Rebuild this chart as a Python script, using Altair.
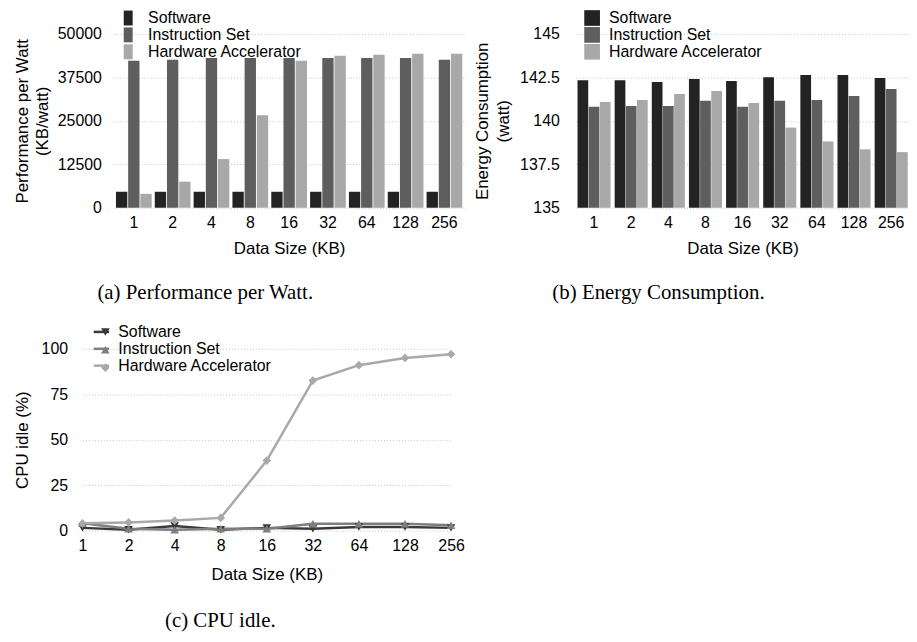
import altair as alt
import pandas as pd

sizes = ["1", "2", "4", "8", "16", "32", "64", "128", "256"]
series = ["Software", "Instruction Set", "Hardware Accelerator"]

# (a) Performance per Watt (KB/watt)
perf_sw = [4600, 4600, 4600, 4600, 4600, 4600, 4600, 4600, 4600]
perf_is = [42300, 42600, 43100, 43100, 43100, 43100, 43100, 43100, 42600]
perf_hw = [4000, 7500, 14000, 26600, 42300, 43700, 44000, 44300, 44300]

# (b) Energy Consumption (watt)
energy_sw = [142.34, 142.34, 142.23, 142.40, 142.29, 142.51, 142.63, 142.63, 142.46]
energy_is = [140.81, 140.86, 140.86, 141.15, 140.81, 141.15, 141.20, 141.43, 141.83]
energy_hw = [141.09, 141.20, 141.55, 141.72, 141.03, 139.61, 138.81, 138.36, 138.20]
energy_ticks = [135, 137.5, 140, 142.5, 145]

# (c) CPU idle (%)
idle_sw = [1.5, 0.5, 2.5, 0.5, 1.5, 1.0, 2.0, 2.0, 1.5]
idle_is = [4.0, 1.0, 0.5, 1.0, 1.0, 3.8, 3.8, 3.8, 2.9]
idle_hw = [4.0, 4.5, 5.5, 7.0, 38.5, 82.5, 91.0, 95.0, 97.0]

colors_a = ["#232323", "#5e5e5e", "#a8a8a8"]
colors_b = ["#414141", "#797979", "#a9a9a9"]
colors_c = ["#3a3a3a", "#7e7e7e", "#a9a9a9"]

FONT = "Liberation Sans"
SERIF = "Liberation Serif"


def long_df(vals):
    rows = []
    for s, v in zip(series, vals):
        for k, x in zip(sizes, v):
            rows.append({"size": k, "series": s, "series_l": s, "value": x})
    return pd.DataFrame(rows)


def indep(ch):
    return ch.resolve_scale(
        color="independent", shape="independent", stroke="independent",
    ).resolve_legend(
        color="independent", shape="independent", stroke="independent",
    )


df_a = long_df([perf_sw, perf_is, perf_hw])
df_b = long_df([energy_sw, energy_is, energy_hw])
df_c = long_df([idle_sw, idle_is, idle_hw])

x_axis_common = dict(title="Data Size (KB)", labelAngle=0, ticks=False, domain=False,
                     grid=False, labelPadding=7, titlePadding=10)

a = alt.Chart(df_a).mark_bar().encode(
    x=alt.X("size:N", sort=sizes,
            scale=alt.Scale(paddingInner=0.08, paddingOuter=0.043),
            axis=alt.Axis(**x_axis_common)),
    xOffset=alt.XOffset("series:N", sort=series, scale=alt.Scale(paddingInner=0.07)),
    y=alt.Y("value:Q", scale=alt.Scale(domain=[0, 50000]),
            axis=alt.Axis(values=[0, 12500, 25000, 37500, 50000], format="d",
                          title=["Performance per Watt", "(KB/watt)"],
                          titleLineHeight=20, labelPadding=13, titlePadding=6,
                          ticks=False, domain=False)),
    color=alt.Color("series:N", sort=series,
                    scale=alt.Scale(domain=series, range=colors_a),
                    legend=alt.Legend(orient="none", legendX=6, legendY=-24, title=None,
                                      symbolType="M-0.6,-1H0.6V1H-0.6Z", symbolSize=225,
                                      symbolStrokeWidth=0, labelOffset=12, rowPadding=1,
                                      padding=0)),
).properties(
    width=352, height=175,
    title=alt.TitleParams("(a) Performance per Watt.", orient="bottom", anchor="start",
                          frame="group", dx=-17, offset=26, font=SERIF, fontSize=21,
                          fontWeight="normal", color="black"),
)

b = alt.Chart(df_b).mark_bar().encode(
    x=alt.X("size:N", sort=sizes,
            scale=alt.Scale(paddingInner=0.11, paddingOuter=0.035),
            axis=alt.Axis(**x_axis_common)),
    xOffset=alt.XOffset("series:N", sort=series, scale=alt.Scale(paddingInner=0.04)),
    y=alt.Y("value:Q", scale=alt.Scale(domain=[135, 145], zero=False, clamp=True),
            axis=alt.Axis(values=energy_ticks, format=".1~f",
                          title=["Energy Consumption", "(watt)"],
                          titleLineHeight=21, labelPadding=17, titlePadding=7,
                          ticks=False, domain=False)),
    y2=alt.datum(135),
    color=alt.Color("series:N", sort=series,
                    scale=alt.Scale(domain=series, range=colors_b),
                    legend=alt.Legend(orient="none", legendX=8, legendY=-24, title=None,
                                      symbolType="square", symbolSize=250,
                                      symbolStrokeWidth=0, labelOffset=9, rowPadding=1,
                                      padding=0)),
).properties(
    width=335, height=175,
    title=alt.TitleParams("(b) Energy Consumption.", orient="bottom", anchor="start",
                          frame="group", dx=-24, offset=26, font=SERIF, fontSize=21,
                          fontWeight="normal", color="black"),
)

base_c = alt.Chart(df_c).encode(
    x=alt.X("size:N", sort=sizes, scale=alt.Scale(type="point", padding=0),
            axis=alt.Axis(title="Data Size (KB)", labelAngle=0, ticks=False, domain=False,
                          grid=False, labelPadding=7, titlePadding=13)),
    y=alt.Y("value:Q", scale=alt.Scale(domain=[0, 100]),
            axis=alt.Axis(values=[0, 25, 50, 75, 100], title="CPU idle (%)",
                          labelPadding=15, titlePadding=10, ticks=False, domain=False)),
)

lines = base_c.mark_line(strokeWidth=2.5).encode(
    stroke=alt.Stroke("series_l:N", sort=series, scale=alt.Scale(range=colors_c),
                      legend=alt.Legend(orient="none", legendX=10, legendY=-26, title=None,
                                        symbolType="stroke", symbolSize=240,
                                        symbolStrokeWidth=2.5, labelOffset=8, rowPadding=0,
                                        padding=0)),
)

marker_legend = dict(orient="none", legendX=15, legendY=-25, title=None,
                     symbolSize=75, symbolStrokeWidth=0, labelExpr="''",
                     rowPadding=2, padding=0)

points = base_c.mark_point(filled=True, size=75, opacity=1).encode(
    color=alt.Color("series:N", scale=alt.Scale(domain=series, range=colors_c),
                    legend=alt.Legend(**marker_legend)),
    shape=alt.Shape("series:N",
                    scale=alt.Scale(domain=series,
                                    range=["triangle-down", "triangle-up", "diamond"]),
                    legend=alt.Legend(**marker_legend)),
)

c = alt.layer(lines, points).properties(
    width=371, height=183,
    title=alt.TitleParams("(c) CPU idle.", orient="bottom", anchor="start",
                          frame="group", dx=83, offset=28, font=SERIF, fontSize=21,
                          fontWeight="normal", color="black"),
)


def spacer():
    return alt.Chart(pd.DataFrame({"z": [0]})).mark_point(opacity=0, size=0).encode(
        x=alt.value(0), y=alt.value(0)
    ).properties(width=1, height=1)


panels_ab = indep(alt.hconcat(a, b, spacing=9)).resolve_scale(xOffset="independent")
row_top = indep(alt.hconcat(spacer(), panels_ab, spacing=0))
row_bottom = indep(alt.hconcat(spacer(), c, spacing=0))

chart = indep(alt.vconcat(row_top, row_bottom, spacing=20)).properties(
    padding={"top": 0, "left": 4, "right": 0, "bottom": 0}
).configure(font=FONT).configure_view(stroke=None).configure_axis(
    labelFont=FONT, titleFont=FONT, labelFontSize=16, titleFontSize=17,
    titleFontWeight="normal", labelColor="black", titleColor="black",
    gridColor="#c4c4c4", gridDash=[1, 2], gridWidth=1,
).configure_legend(
    labelFont=FONT, labelFontSize=16, labelColor="black",
)

chart.save("out.html", embed_options={"renderer": "svg", "actions": False})
